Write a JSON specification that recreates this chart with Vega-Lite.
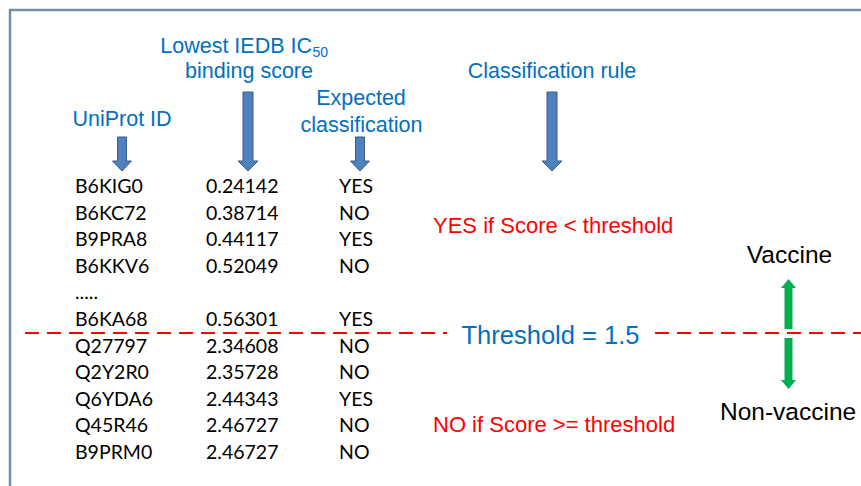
{
  "$schema": "https://vega.github.io/schema/vega-lite/v6.json",
  "width": 861,
  "height": 486,
  "autosize": "none",
  "padding": 0,
  "background": "white",
  "config": {"view": {"stroke": null}, "axis": {"disable": true}},
  "resolve": {"scale": {"y": "independent"}},
  "layer": [
    {
      "data": {"values": [{}]},
      "layer": [
        {"mark": {"type": "rule", "stroke": "#7090a8", "strokeWidth": 2.5},
         "encoding": {
           "x": {"datum": 9, "type": "quantitative", "scale": {"domain": [0, 861], "nice": false, "zero": false}},
           "x2": {"datum": 861},
           "y": {"datum": 10, "type": "quantitative", "scale": {"domain": [0, 486], "reverse": true, "nice": false, "zero": false}}}},
        {"mark": {"type": "rule", "stroke": "#7090a8", "strokeWidth": 2.5},
         "encoding": {
           "x": {"datum": 10, "type": "quantitative", "scale": {"domain": [0, 861], "nice": false, "zero": false}},
           "y": {"datum": 9, "type": "quantitative", "scale": {"domain": [0, 486], "reverse": true, "nice": false, "zero": false}},
           "y2": {"datum": 486}}},
        {"mark": {"type": "rule", "stroke": "#ff0000", "strokeWidth": 2, "strokeDash": [14, 8]},
         "encoding": {
           "x": {"datum": 25, "type": "quantitative", "scale": {"domain": [0, 861], "nice": false, "zero": false}},
           "x2": {"datum": 447},
           "y": {"datum": 333, "type": "quantitative", "scale": {"domain": [0, 486], "reverse": true, "nice": false, "zero": false}}}},
        {"mark": {"type": "rule", "stroke": "#ff0000", "strokeWidth": 2, "strokeDash": [14, 8]},
         "encoding": {
           "x": {"datum": 655, "type": "quantitative", "scale": {"domain": [0, 861], "nice": false, "zero": false}},
           "x2": {"datum": 861},
           "y": {"datum": 333, "type": "quantitative", "scale": {"domain": [0, 486], "reverse": true, "nice": false, "zero": false}}}},
        {"mark": {"type": "point", "filled": true, "opacity": 1, "size": 4, "fill": "#4f81bd", "stroke": "#385d8a", "strokeWidth": 1,
                  "shape": "M-4.5,-17L4.5,-17L4.5,7L9.5,7L0,17L-9.5,7L-4.5,7Z"},
         "encoding": {
           "x": {"datum": 122, "type": "quantitative", "scale": {"domain": [0, 861], "nice": false, "zero": false}},
           "y": {"datum": 154, "type": "quantitative", "scale": {"domain": [0, 486], "reverse": true, "nice": false, "zero": false}}}},
        {"mark": {"type": "point", "filled": true, "opacity": 1, "size": 4, "fill": "#4f81bd", "stroke": "#385d8a", "strokeWidth": 1,
                  "shape": "M-4.5,-17L4.5,-17L4.5,7L9.5,7L0,17L-9.5,7L-4.5,7Z"},
         "encoding": {
           "x": {"datum": 360, "type": "quantitative", "scale": {"domain": [0, 861], "nice": false, "zero": false}},
           "y": {"datum": 154, "type": "quantitative", "scale": {"domain": [0, 486], "reverse": true, "nice": false, "zero": false}}}},
        {"mark": {"type": "point", "filled": true, "opacity": 1, "size": 4, "fill": "#4f81bd", "stroke": "#385d8a", "strokeWidth": 1,
                  "shape": "M-5,-39.5L5,-39.5L5,29.5L10,29.5L0,39.5L-10,29.5L-5,29.5Z"},
         "encoding": {
           "x": {"datum": 248, "type": "quantitative", "scale": {"domain": [0, 861], "nice": false, "zero": false}},
           "y": {"datum": 131.5, "type": "quantitative", "scale": {"domain": [0, 486], "reverse": true, "nice": false, "zero": false}}}},
        {"mark": {"type": "point", "filled": true, "opacity": 1, "size": 4, "fill": "#4f81bd", "stroke": "#385d8a", "strokeWidth": 1,
                  "shape": "M-5,-39.5L5,-39.5L5,29.5L10,29.5L0,39.5L-10,29.5L-5,29.5Z"},
         "encoding": {
           "x": {"datum": 552, "type": "quantitative", "scale": {"domain": [0, 861], "nice": false, "zero": false}},
           "y": {"datum": 131.5, "type": "quantitative", "scale": {"domain": [0, 486], "reverse": true, "nice": false, "zero": false}}}},
        {"mark": {"type": "point", "filled": true, "opacity": 1, "size": 4, "fill": "#00b050", "strokeWidth": 0,
                  "shape": "M0,-25L7.5,-16L4,-16L4,25L-4,25L-4,-16L-7.5,-16Z"},
         "encoding": {
           "x": {"datum": 788.5, "type": "quantitative", "scale": {"domain": [0, 861], "nice": false, "zero": false}},
           "y": {"datum": 304, "type": "quantitative", "scale": {"domain": [0, 486], "reverse": true, "nice": false, "zero": false}}}},
        {"mark": {"type": "point", "filled": true, "opacity": 1, "size": 4, "fill": "#00b050", "strokeWidth": 0,
                  "shape": "M-4,-25.5L4,-25.5L4,16.5L7.5,16.5L0,25.5L-7.5,16.5L-4,16.5Z"},
         "encoding": {
           "x": {"datum": 788.5, "type": "quantitative", "scale": {"domain": [0, 861], "nice": false, "zero": false}},
           "y": {"datum": 363.5, "type": "quantitative", "scale": {"domain": [0, 486], "reverse": true, "nice": false, "zero": false}}}},
        {"data": {"values": [{"label": "Lowest IEDB IC"}]},
         "mark": {"type": "text", "align": "right", "baseline": "alphabetic", "font": "Liberation Sans", "fontSize": 21.5, "color": "#0070c0"},
         "encoding": {
           "x": {"datum": 312, "type": "quantitative", "scale": {"domain": [0, 861], "nice": false, "zero": false}},
           "y": {"datum": 53, "type": "quantitative", "scale": {"domain": [0, 486], "reverse": true, "nice": false, "zero": false}},
           "text": {"field": "label"}}},
        {"data": {"values": [{"label": "50"}]},
         "mark": {"type": "text", "align": "left", "baseline": "alphabetic", "font": "Liberation Sans", "fontSize": 14, "color": "#0070c0"},
         "encoding": {
           "x": {"datum": 312.5, "type": "quantitative", "scale": {"domain": [0, 861], "nice": false, "zero": false}},
           "y": {"datum": 57, "type": "quantitative", "scale": {"domain": [0, 486], "reverse": true, "nice": false, "zero": false}},
           "text": {"field": "label"}}},
        {"data": {"values": [{"label": "binding score"}]},
         "mark": {"type": "text", "align": "center", "baseline": "alphabetic", "font": "Liberation Sans", "fontSize": 21.5, "color": "#0070c0"},
         "encoding": {
           "x": {"datum": 249, "type": "quantitative", "scale": {"domain": [0, 861], "nice": false, "zero": false}},
           "y": {"datum": 78, "type": "quantitative", "scale": {"domain": [0, 486], "reverse": true, "nice": false, "zero": false}},
           "text": {"field": "label"}}},
        {"data": {"values": [{"label": "UniProt ID"}]},
         "mark": {"type": "text", "align": "center", "baseline": "alphabetic", "font": "Liberation Sans", "fontSize": 21.5, "color": "#0070c0"},
         "encoding": {
           "x": {"datum": 122, "type": "quantitative", "scale": {"domain": [0, 861], "nice": false, "zero": false}},
           "y": {"datum": 126, "type": "quantitative", "scale": {"domain": [0, 486], "reverse": true, "nice": false, "zero": false}},
           "text": {"field": "label"}}},
        {"data": {"values": [{"label": "Expected"}]},
         "mark": {"type": "text", "align": "center", "baseline": "alphabetic", "font": "Liberation Sans", "fontSize": 21.5, "color": "#0070c0"},
         "encoding": {
           "x": {"datum": 361, "type": "quantitative", "scale": {"domain": [0, 861], "nice": false, "zero": false}},
           "y": {"datum": 105, "type": "quantitative", "scale": {"domain": [0, 486], "reverse": true, "nice": false, "zero": false}},
           "text": {"field": "label"}}},
        {"data": {"values": [{"label": "classification"}]},
         "mark": {"type": "text", "align": "center", "baseline": "alphabetic", "font": "Liberation Sans", "fontSize": 21.5, "color": "#0070c0"},
         "encoding": {
           "x": {"datum": 361.5, "type": "quantitative", "scale": {"domain": [0, 861], "nice": false, "zero": false}},
           "y": {"datum": 132, "type": "quantitative", "scale": {"domain": [0, 486], "reverse": true, "nice": false, "zero": false}},
           "text": {"field": "label"}}},
        {"data": {"values": [{"label": "Classification rule"}]},
         "mark": {"type": "text", "align": "center", "baseline": "alphabetic", "font": "Liberation Sans", "fontSize": 21.5, "color": "#0070c0"},
         "encoding": {
           "x": {"datum": 552, "type": "quantitative", "scale": {"domain": [0, 861], "nice": false, "zero": false}},
           "y": {"datum": 78, "type": "quantitative", "scale": {"domain": [0, 486], "reverse": true, "nice": false, "zero": false}},
           "text": {"field": "label"}}},
        {"data": {"values": [{"label": "YES if Score < threshold"}]},
         "mark": {"type": "text", "align": "left", "baseline": "alphabetic", "font": "Liberation Sans", "fontSize": 22, "color": "#ff0000"},
         "encoding": {
           "x": {"datum": 433, "type": "quantitative", "scale": {"domain": [0, 861], "nice": false, "zero": false}},
           "y": {"datum": 233, "type": "quantitative", "scale": {"domain": [0, 486], "reverse": true, "nice": false, "zero": false}},
           "text": {"field": "label"}}},
        {"data": {"values": [{"label": "NO if Score >= threshold"}]},
         "mark": {"type": "text", "align": "left", "baseline": "alphabetic", "font": "Liberation Sans", "fontSize": 22, "color": "#ff0000"},
         "encoding": {
           "x": {"datum": 433, "type": "quantitative", "scale": {"domain": [0, 861], "nice": false, "zero": false}},
           "y": {"datum": 432, "type": "quantitative", "scale": {"domain": [0, 486], "reverse": true, "nice": false, "zero": false}},
           "text": {"field": "label"}}},
        {"data": {"values": [{"label": "Threshold = 1.5"}]},
         "mark": {"type": "text", "align": "center", "baseline": "alphabetic", "font": "Liberation Sans", "fontSize": 25.5, "color": "#0070c0"},
         "encoding": {
           "x": {"datum": 550.5, "type": "quantitative", "scale": {"domain": [0, 861], "nice": false, "zero": false}},
           "y": {"datum": 344, "type": "quantitative", "scale": {"domain": [0, 486], "reverse": true, "nice": false, "zero": false}},
           "text": {"field": "label"}}},
        {"data": {"values": [{"label": "Vaccine"}]},
         "mark": {"type": "text", "align": "center", "baseline": "alphabetic", "font": "Liberation Sans", "fontSize": 24.5, "color": "#000000"},
         "encoding": {
           "x": {"datum": 789.5, "type": "quantitative", "scale": {"domain": [0, 861], "nice": false, "zero": false}},
           "y": {"datum": 263, "type": "quantitative", "scale": {"domain": [0, 486], "reverse": true, "nice": false, "zero": false}},
           "text": {"field": "label"}}},
        {"data": {"values": [{"label": "Non-vaccine"}]},
         "mark": {"type": "text", "align": "left", "baseline": "alphabetic", "font": "Liberation Sans", "fontSize": 24.5, "color": "#000000"},
         "encoding": {
           "x": {"datum": 720, "type": "quantitative", "scale": {"domain": [0, 861], "nice": false, "zero": false}},
           "y": {"datum": 420, "type": "quantitative", "scale": {"domain": [0, 486], "reverse": true, "nice": false, "zero": false}},
           "text": {"field": "label"}}}
      ]
    },
    {
      "data": {"values": [
        {"rank": 1, "id": "B6KIG0", "score": 0.24142, "cls": "YES"},
        {"rank": 2, "id": "B6KC72", "score": 0.38714, "cls": "NO"},
        {"rank": 3, "id": "B9PRA8", "score": 0.44117, "cls": "YES"},
        {"rank": 4, "id": "B6KKV6", "score": 0.52049, "cls": "NO"},
        {"rank": 5, "id": ".....", "score": null, "cls": null},
        {"rank": 6, "id": "B6KA68", "score": 0.56301, "cls": "YES"},
        {"rank": 7, "id": "Q27797", "score": 2.34608, "cls": "NO"},
        {"rank": 8, "id": "Q2Y2R0", "score": 2.35728, "cls": "NO"},
        {"rank": 9, "id": "Q6YDA6", "score": 2.44343, "cls": "YES"},
        {"rank": 10, "id": "Q45R46", "score": 2.46727, "cls": "NO"},
        {"rank": 11, "id": "B9PRM0", "score": 2.46727, "cls": "NO"}
      ]},
      "layer": [
        {"mark": {"type": "text", "align": "left", "baseline": "alphabetic", "font": "Lato", "fontSize": 19.5, "color": "#000000"},
         "encoding": {
           "x": {"datum": 75, "type": "quantitative", "scale": {"domain": [0, 861], "nice": false, "zero": false}},
           "y": {"field": "rank", "type": "quantitative", "scale": {"domain": [1, 11], "range": [193, 459], "nice": false, "zero": false}},
           "text": {"field": "id"}}},
        {"transform": [{"filter": "datum.score != null"}],
         "mark": {"type": "text", "align": "left", "baseline": "alphabetic", "font": "Lato", "fontSize": 19.5, "color": "#000000"},
         "encoding": {
           "x": {"datum": 206, "type": "quantitative", "scale": {"domain": [0, 861], "nice": false, "zero": false}},
           "y": {"field": "rank", "type": "quantitative", "scale": {"domain": [1, 11], "range": [193, 459], "nice": false, "zero": false}},
           "text": {"field": "score", "type": "quantitative", "format": ".5f"}}},
        {"transform": [{"filter": "datum.cls != null"}],
         "mark": {"type": "text", "align": "left", "baseline": "alphabetic", "font": "Lato", "fontSize": 19.5, "color": "#000000"},
         "encoding": {
           "x": {"datum": 339, "type": "quantitative", "scale": {"domain": [0, 861], "nice": false, "zero": false}},
           "y": {"field": "rank", "type": "quantitative", "scale": {"domain": [1, 11], "range": [193, 459], "nice": false, "zero": false}},
           "text": {"field": "cls"}}}
      ]
    }
  ]
}
